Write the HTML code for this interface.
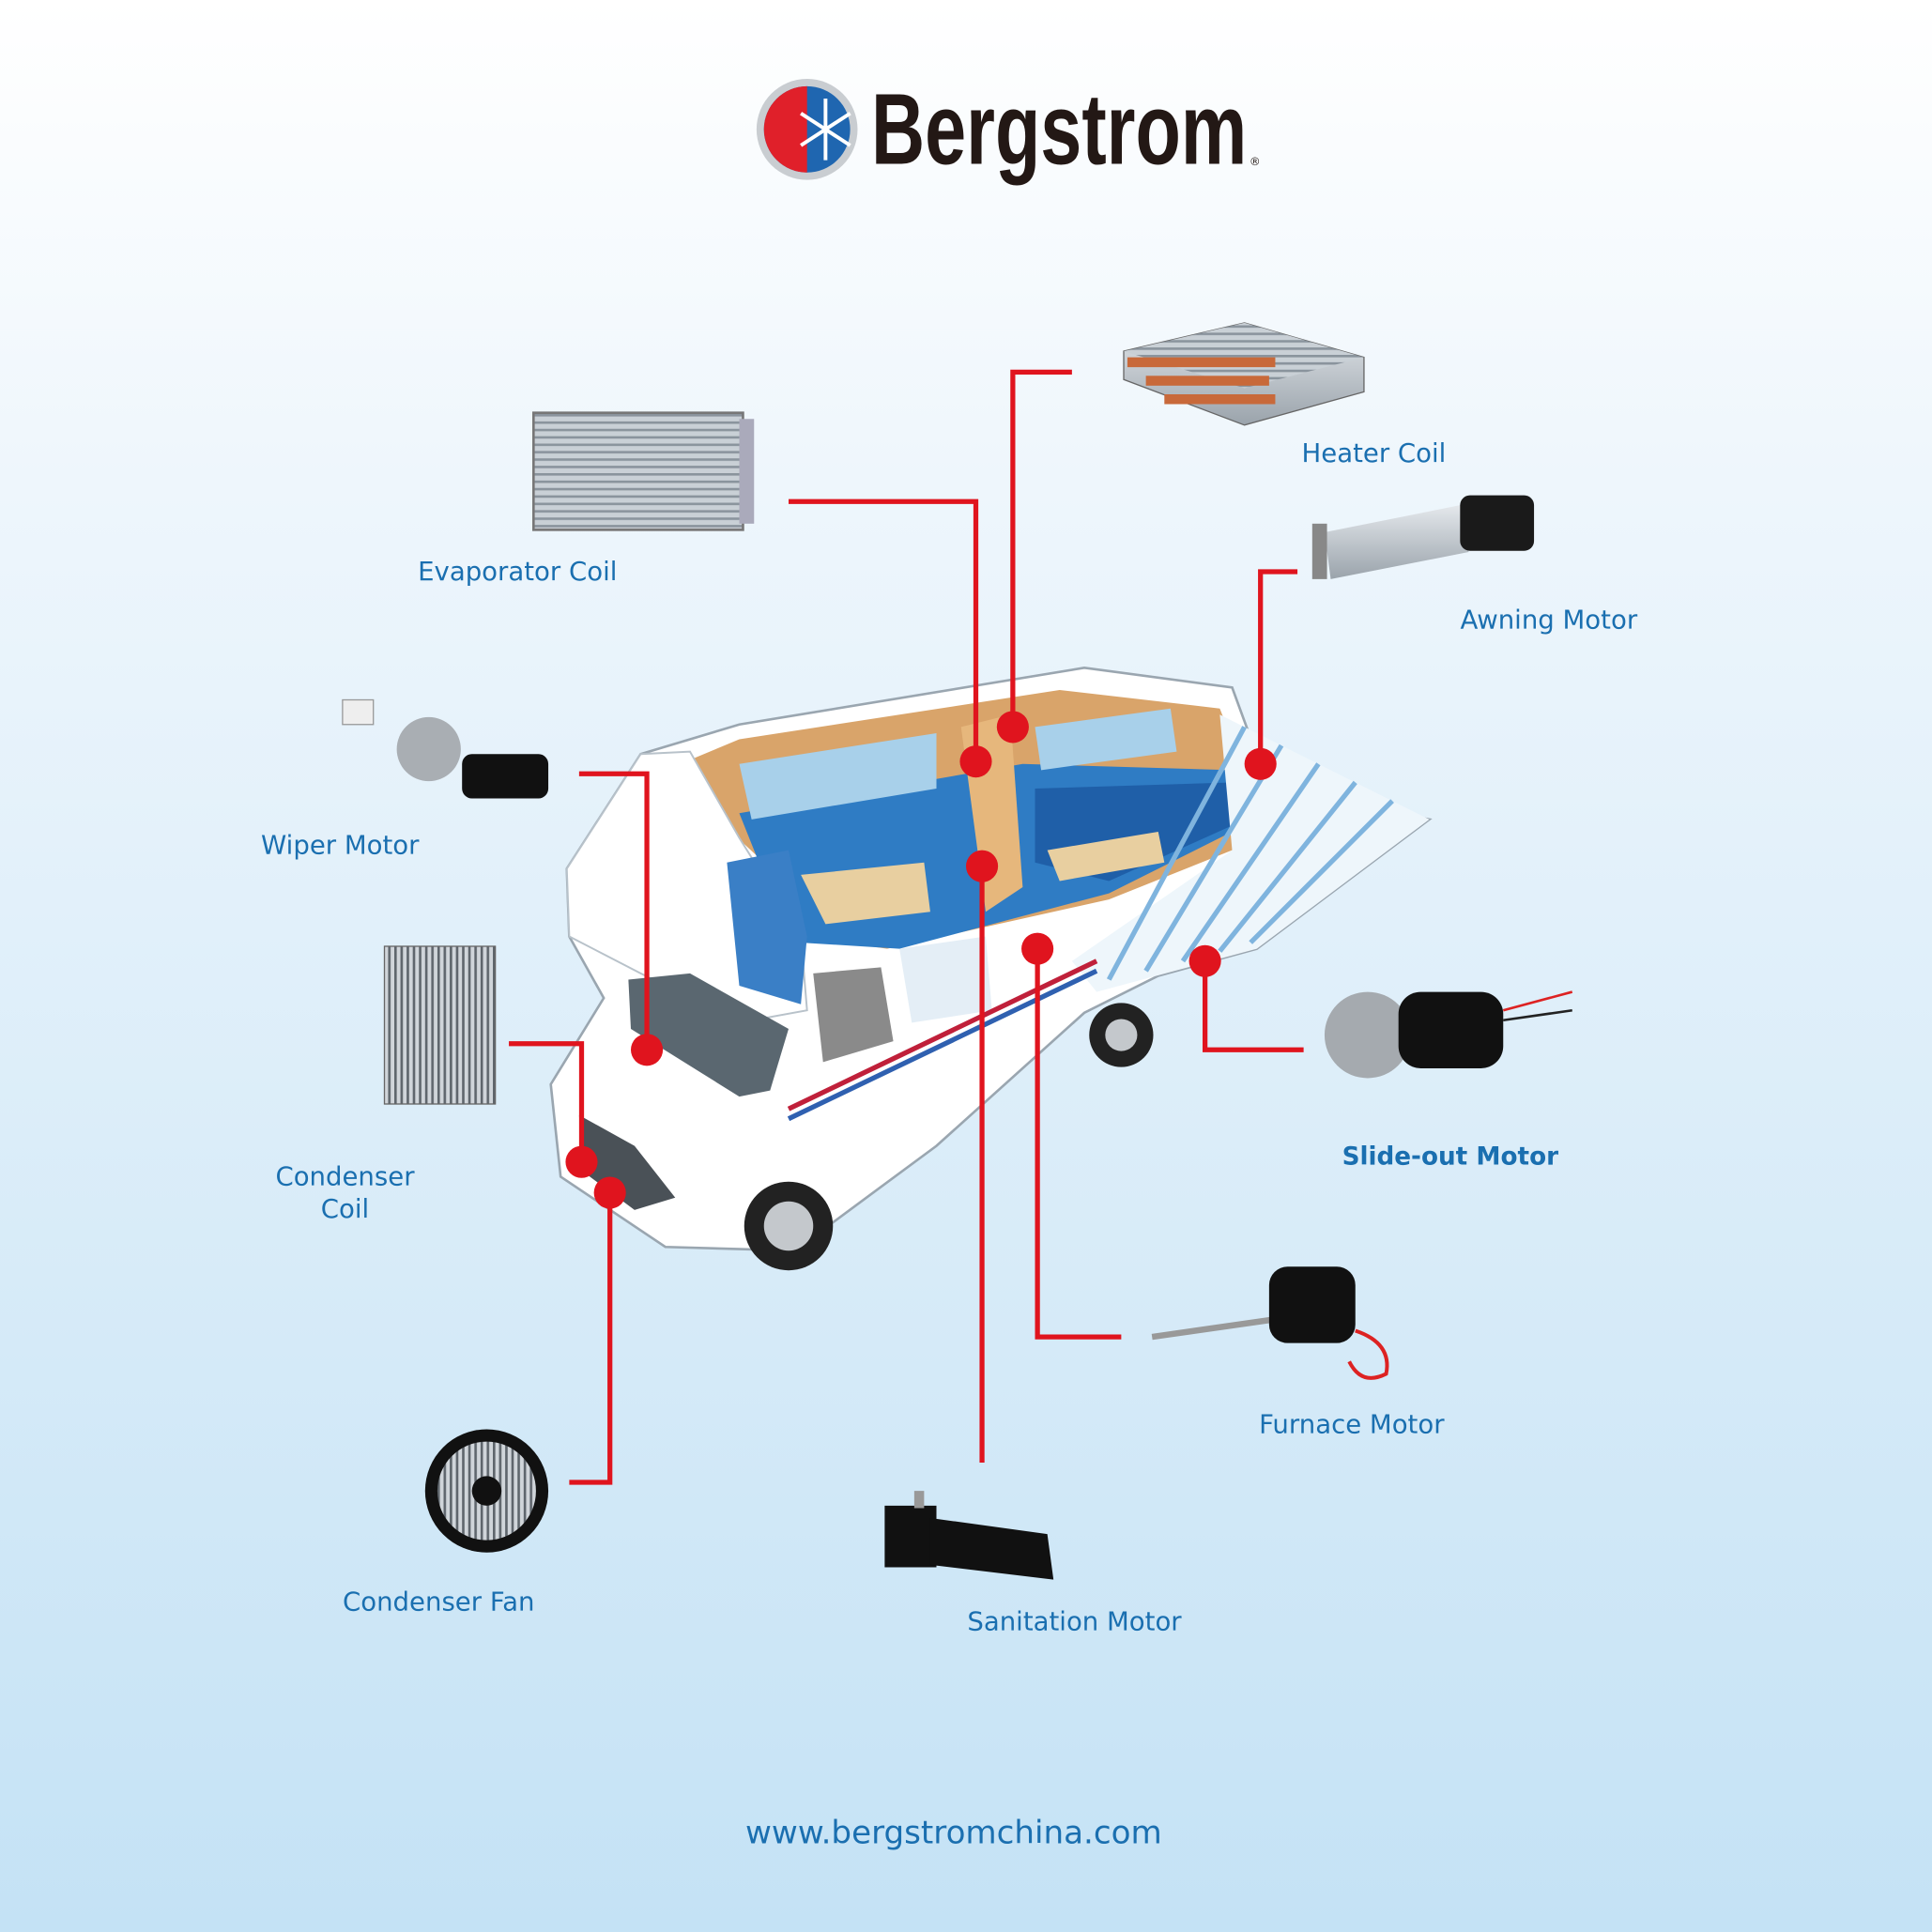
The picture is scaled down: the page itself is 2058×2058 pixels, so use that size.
<!DOCTYPE html>
<html><head><meta charset="utf-8"><style>
html,body{margin:0;padding:0;}
body{width:2058px;height:2058px;overflow:hidden;}
svg{display:block;}
text{font-family:"DejaVu Sans","Liberation Sans",sans-serif;}
</style></head><body>
<svg width="2058" height="2058" viewBox="0 0 1568 1568" xmlns="http://www.w3.org/2000/svg">
<defs>
<linearGradient id="bg" x1="0" y1="0" x2="0" y2="1">
<stop offset="0" stop-color="#ffffff"/><stop offset="0.25" stop-color="#eef6fc"/><stop offset="1" stop-color="#c4e2f5"/>
</linearGradient>
<linearGradient id="metal" x1="0" y1="0" x2="0" y2="1">
<stop offset="0" stop-color="#e4e8ec"/><stop offset="1" stop-color="#9aa3ab"/>
</linearGradient>
<pattern id="fins" width="4" height="6" patternUnits="userSpaceOnUse"><rect width="4" height="6" fill="#c9d0d6"/><rect y="0" width="4" height="2" fill="#8a949d"/></pattern>
<pattern id="vfins" width="5" height="4" patternUnits="userSpaceOnUse"><rect width="5" height="4" fill="#d0d5da"/><rect width="2" height="4" fill="#5f666d"/></pattern>
</defs>
<rect width="1568" height="1568" fill="url(#bg)"/>

<!-- Logo -->
<circle cx="655" cy="105" r="41" fill="#c9cdd1"/>
<circle cx="655" cy="105" r="35" fill="#1f66b0"/>
<path d="M655 70 A35 35 0 0 0 655 140 Z" fill="#e0202a"/>
<g stroke="#fff" stroke-width="3"><line x1="670" y1="80" x2="670" y2="130"/><line x1="650" y1="92" x2="690" y2="118"/><line x1="650" y1="118" x2="690" y2="92"/></g>
<text x="707" y="133" font-weight="bold" font-size="82" fill="#231815" textLength="305" lengthAdjust="spacingAndGlyphs" style="font-family:'Liberation Sans Narrow','Liberation Sans',sans-serif">Bergstrom</text>
<text x="1014" y="134" font-size="9" fill="#231815">®</text>

<!-- Van -->
<polygon points="460,705 520,612 600,588 880,542 1000,558 1030,640 1160,665 1020,770 940,792 880,822 760,930 645,1015 540,1012 455,955 447,880 490,810 462,760" fill="#ffffff" stroke="#9aa6b0" stroke-width="2"/>
<polygon points="540,625 600,600 860,560 990,575 1015,640 1000,690 900,730 720,770 650,760 620,700" fill="#d9a46a"/>
<polygon points="600,660 830,620 1000,625 1010,670 900,725 730,770 650,765 620,710" fill="#2f7cc4"/>
<polygon points="840,640 1000,635 1000,670 900,715 840,700" fill="#1f5fa8"/>
<polygon points="650,710 750,700 755,740 670,750" fill="#e8cfa0"/>
<polygon points="850,690 940,675 945,700 860,715" fill="#e8cfa0"/>
<polygon points="600,620 760,595 760,640 610,665" fill="#a8d0ea"/>
<polygon points="840,590 950,575 955,610 845,625" fill="#a8d0ea"/>
<polygon points="780,590 820,580 830,720 800,740" fill="#e6b77c"/>
<polygon points="990,580 1160,665 1020,770 890,805 870,780 1000,690" fill="#eef6fb"/>
<g stroke="#7fb4de" stroke-width="4">
<line x1="1010" y1="590" x2="900" y2="795"/><line x1="1040" y1="605" x2="930" y2="788"/><line x1="1070" y1="620" x2="960" y2="780"/><line x1="1100" y1="635" x2="990" y2="772"/><line x1="1130" y1="650" x2="1015" y2="765"/>
</g>
<!-- cab-over white overhang -->
<polygon points="460,705 520,612 560,610 600,680 650,760 655,820 600,830 520,790 462,760" fill="#ffffff" stroke="#b8c2ca" stroke-width="1.5"/>
<polygon points="590,700 640,690 655,760 650,815 600,800" fill="#3a7fc6"/>
<polygon points="510,795 560,790 640,835 625,885 600,890 512,835" fill="#5a6770"/>
<polygon points="660,790 715,785 725,845 668,862" fill="#8a8a8a"/>
<polygon points="470,905 515,930 548,972 515,982 472,950" fill="#4a5157"/>
<polygon points="730,770 800,760 805,820 740,830" fill="#e4eef6"/>
<line x1="640" y1="900" x2="890" y2="780" stroke="#c0203a" stroke-width="4"/>
<line x1="640" y1="908" x2="890" y2="788" stroke="#2f60b0" stroke-width="4"/>
<circle cx="640" cy="995" r="36" fill="#222"/><circle cx="640" cy="995" r="20" fill="#c4c8cc"/>
<circle cx="910" cy="840" r="26" fill="#222"/><circle cx="910" cy="840" r="13" fill="#c4c8cc"/>

<!-- Products -->
<rect x="433" y="335" width="170" height="95" fill="url(#fins)" stroke="#777" stroke-width="2"/>
<rect x="600" y="340" width="12" height="85" fill="#aab"/>
<polygon points="912,285 1010,262 1107,290 1107,318 1010,345 912,308" fill="url(#metal)" stroke="#666"/>
<polygon points="912,285 1010,262 1107,290 1010,315" fill="url(#fins)"/>
<g fill="#c8693a"><rect x="915" y="290" width="120" height="8"/><rect x="930" y="305" width="100" height="8"/><rect x="945" y="320" width="90" height="8"/></g>
<polygon points="1075,432 1185,410 1192,448 1080,470" fill="url(#metal)"/>
<rect x="1065" y="425" width="12" height="45" fill="#888"/>
<rect x="1185" y="402" width="60" height="45" rx="8" fill="#1a1a1a"/>
<rect x="278" y="568" width="25" height="20" fill="#eee" stroke="#999"/>
<circle cx="348" cy="608" r="26" fill="#a9aeb3"/>
<rect x="375" y="612" width="70" height="36" rx="8" fill="#111"/>
<rect x="312" y="768" width="90" height="128" fill="url(#vfins)" stroke="#666"/>
<circle cx="395" cy="1210" r="50" fill="#111"/><circle cx="395" cy="1210" r="40" fill="url(#vfins)"/><circle cx="395" cy="1210" r="12" fill="#111"/>
<rect x="718" y="1222" width="42" height="50" fill="#111"/><rect x="742" y="1210" width="8" height="14" fill="#999"/>
<polygon points="755,1232 850,1245 855,1282 755,1270" fill="#111"/>
<line x1="935" y1="1085" x2="1040" y2="1070" stroke="#999" stroke-width="5"/>
<rect x="1030" y="1028" width="70" height="62" rx="15" fill="#111"/>
<path d="M1100 1080 q30 10 25 35 q-20 10 -30 -10" fill="none" stroke="#d22" stroke-width="3"/>
<circle cx="1110" cy="840" r="35" fill="#a5aaaf"/>
<rect x="1135" y="805" width="85" height="62" rx="18" fill="#111"/>
<line x1="1220" y1="820" x2="1276" y2="805" stroke="#d22" stroke-width="2"/><line x1="1220" y1="828" x2="1276" y2="820" stroke="#222" stroke-width="2"/>

<!-- Connectors -->
<g fill="none" stroke="#e0141e" stroke-width="4">
<polyline points="640,407 792,407 792,618"/>
<polyline points="870,302 822,302 822,590"/>
<polyline points="1053,464 1023,464 1023,620"/>
<polyline points="470,628 525,628 525,852"/>
<polyline points="413,847 472,847 472,943"/>
<polyline points="495,968 495,1203 462,1203"/>
<polyline points="797,703 797,1187"/>
<polyline points="842,770 842,1085 910,1085"/>
<polyline points="978,780 978,852 1058,852"/>
</g>
<g fill="#e0141e">
<circle cx="792" cy="618" r="13"/><circle cx="822" cy="590" r="13"/><circle cx="1023" cy="620" r="13"/>
<circle cx="525" cy="852" r="13"/><circle cx="472" cy="943" r="13"/><circle cx="495" cy="968" r="13"/>
<circle cx="797" cy="703" r="13"/><circle cx="842" cy="770" r="13"/><circle cx="978" cy="780" r="13"/>
</g>

<!-- Labels -->
<g fill="#1a6fb0" font-size="21" text-anchor="middle">
<text x="420" y="471">Evaporator Coil</text>
<text x="1115" y="375">Heater Coil</text>
<text x="1257" y="510">Awning Motor</text>
<text x="276" y="693">Wiper Motor</text>
<text x="280" y="962">Condenser</text>
<text x="280" y="988">Coil</text>
<text x="1177" y="945" font-weight="bold" font-size="20">Slide-out Motor</text>
<text x="1097" y="1163">Furnace Motor</text>
<text x="356" y="1307">Condenser Fan</text>
<text x="872" y="1323">Sanitation Motor</text>
<text x="774" y="1496" font-size="26">www.bergstromchina.com</text>
</g>
</svg>
</body></html>
